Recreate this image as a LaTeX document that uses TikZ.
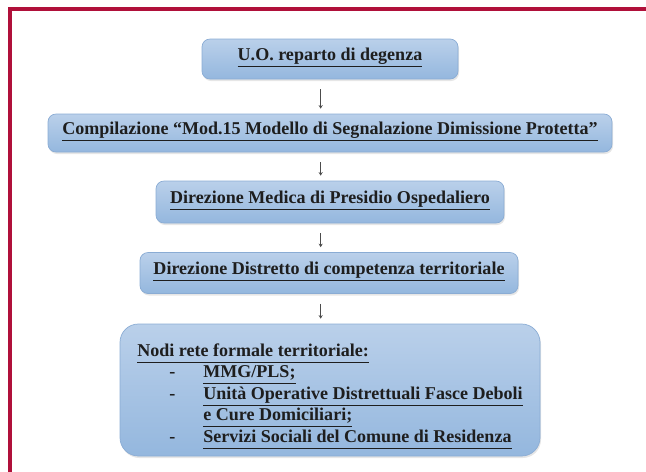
\documentclass[tikz,border=0pt]{standalone}
\usepackage{fontspec}
\setmainfont{Liberation Serif}
\usetikzlibrary{arrows.meta,shadows}
\definecolor{framered}{RGB}{176,16,58}
\definecolor{boxtop}{RGB}{186,208,234}
\definecolor{boxbottom}{RGB}{148,183,222}
\definecolor{boxline}{RGB}{138,172,212}
\definecolor{inkdark}{RGB}{30,30,30}
\newcommand{\sottolinea}[1]{\underline{\smash{#1}\vphantom{gp}}}
\tikzset{
  flowbox/.style={rounded corners=0.24cm, draw=boxline, line width=0.6pt,
    top color=boxtop, bottom color=boxbottom, inner sep=0pt,
    drop shadow={opacity=0.2, shadow xshift=0.03cm, shadow yshift=-0.06cm},
    font=\bfseries\fontsize{15.4}{18.4}\selectfont, text=inkdark},
  flow/.style={-{Stealth[length=3pt,width=3.5pt]}, line width=0.5pt,
    draw=black!70, shorten <=0.3cm, shorten >=0.15cm}
}
\begin{document}
\begin{tikzpicture}
\useasboundingbox (0,0) rectangle (19.38,-14.13);
% cornice
\draw[framered, line width=2.6pt] (0.30,-14.3) -- (0.30,-0.27) -- (19.5,-0.27);
% riquadri
\node[flowbox, minimum width=7.68cm, minimum height=1.2cm] (uo) at (9.9,-1.77) {\sottolinea{U.O. reparto di degenza}};
\node[flowbox, minimum width=16.92cm, minimum height=1.14cm] (mod) at (9.9,-3.99) {\sottolinea{Compilazione “Mod.15 Modello di Segnalazione Dimissione Protetta”}};
\node[flowbox, minimum width=10.44cm, minimum height=1.26cm] (dmpo) at (9.9,-6.06) {\sottolinea{Direzione Medica di Presidio Ospedaliero}};
\node[flowbox, minimum width=11.34cm, minimum height=1.23cm] (dist) at (9.87,-8.19) {\sottolinea{Direzione Distretto di competenza territoriale}};
\node[flowbox, rounded corners=0.55cm, minimum width=12.6cm, minimum height=3.96cm] (rete) at (9.9,-11.7) {%
  \begin{tabular}{@{}l@{\hspace{0.84cm}}l@{}}
  \multicolumn{2}{@{}l@{}}{\rule{0pt}{21.4pt}\sottolinea{Nodi rete formale territoriale:}}\\
  \hspace{0.96cm}- & \sottolinea{MMG/PLS;}\\
  \hspace{0.96cm}- & \sottolinea{Unità Operative Distrettuali Fasce Deboli}\\
   & \sottolinea{e Cure Domiciliari;}\\
  \hspace{0.96cm}- & \sottolinea{Servizi Sociali del Comune di Residenza}
  \end{tabular}};
% frecce
\coordinate (ax) at (9.62,0);
\draw[flow] (uo.south -| ax) -- (mod.north -| ax);
\draw[flow] (mod.south -| ax) -- (dmpo.north -| ax);
\draw[flow] (dmpo.south -| ax) -- (dist.north -| ax);
\draw[flow] (dist.south -| ax) -- (rete.north -| ax);
\end{tikzpicture}
\end{document}
